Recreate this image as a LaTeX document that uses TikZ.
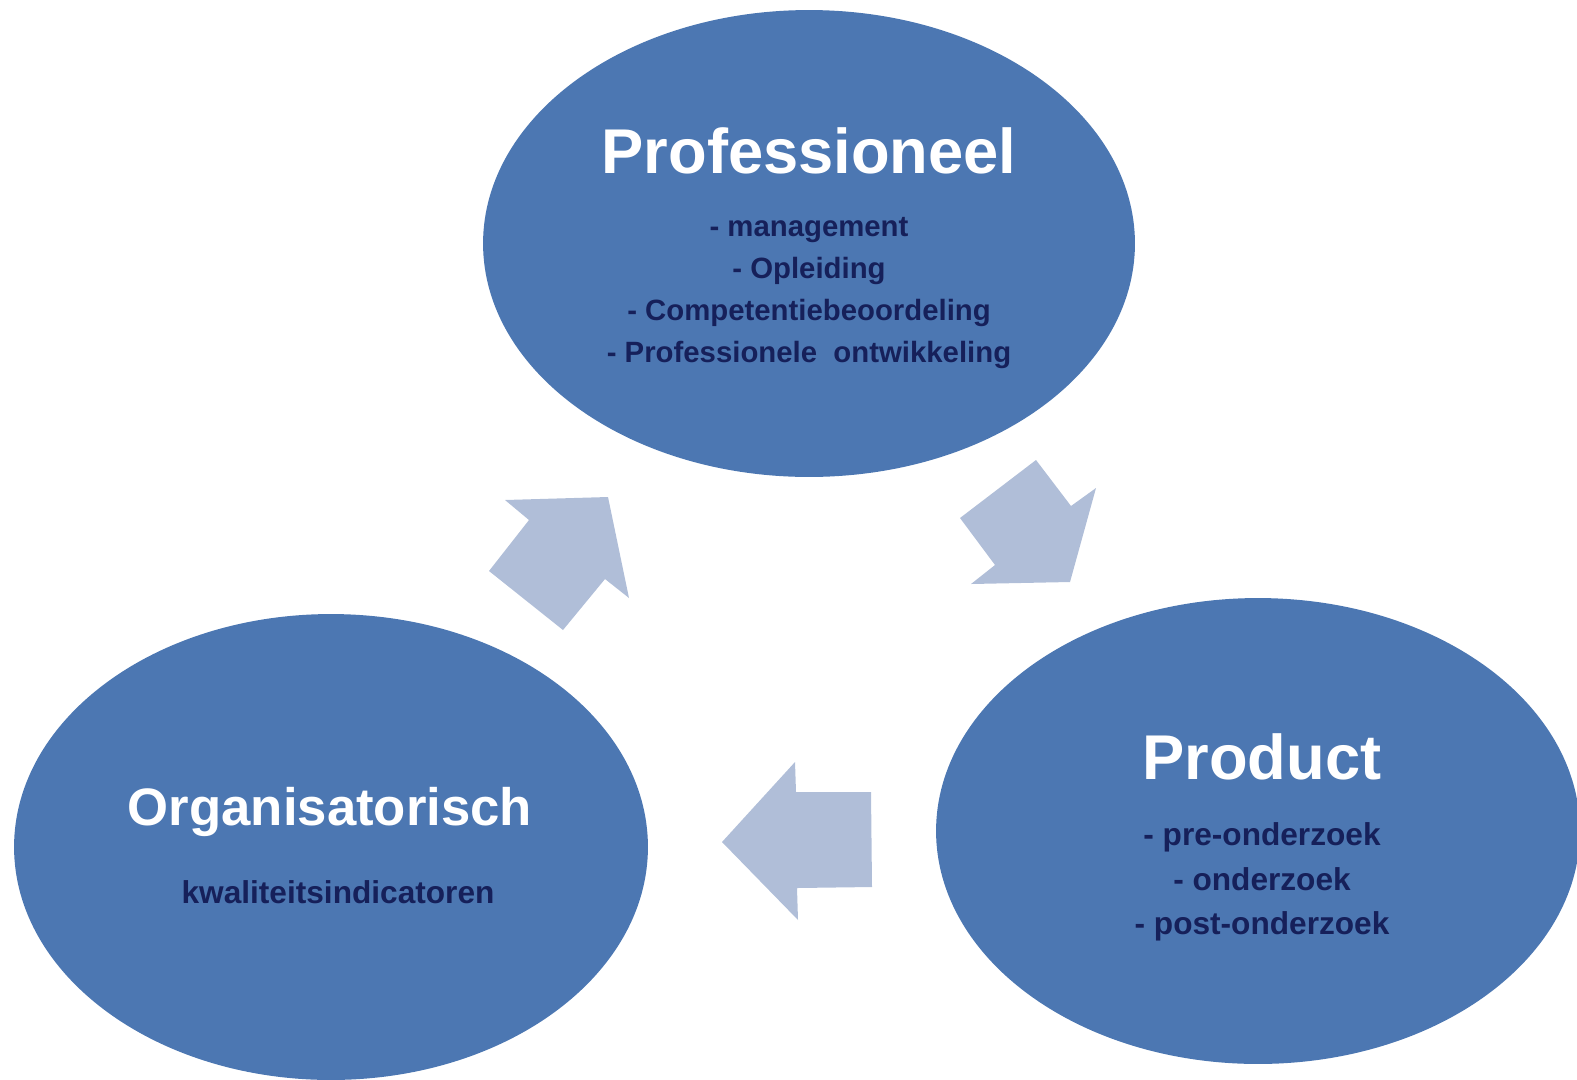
\documentclass[tikz,border=0pt]{standalone}
\usepackage{fontspec}
\setmainfont{Liberation Sans}

\begin{document}
\begin{tikzpicture}[x=0.02cm,y=-0.02cm]
% Define colours
\definecolor{cyclefill}{RGB}{76,119,178}
\definecolor{arrowfill}{RGB}{176,190,216}
\definecolor{itemtext}{RGB}{22,32,90}

\tikzset{
  title/.style={text=white,font=\bfseries\fontsize{36}{43}\selectfont},
  items/.style={text=itemtext,align=center}
}

\useasboundingbox (0,0) rectangle (1577,1079);

% Draw the three ellipses
\fill[cyclefill] (809,243.5) ellipse [x radius=6.52cm, y radius=4.67cm];
\fill[cyclefill] (331,847) ellipse [x radius=6.34cm, y radius=4.66cm];
\fill[cyclefill] (1258,831) ellipse [x radius=6.44cm, y radius=4.66cm];

% Draw the cycle arrows
\fill[arrowfill] (505,500) -- (608,497) -- (629,598) -- (605,579) -- (563,630) -- (489,571) -- (529,520) -- cycle;
\fill[arrowfill] (1036,460) -- (1071,506) -- (1096,488) -- (1070,582) -- (971,584) -- (995,565) -- (960,518) -- cycle;
\fill[arrowfill] (722,842) -- (795,762) -- (796,792) -- (871,792) -- (872,887) -- (797,888) -- (798,920) -- cycle;

% Add labels
\node[title] (prof) at (809,151) {Professioneel};
\node[items,font=\bfseries\fontsize{16.7}{23.9}\selectfont] (profitems) at (809,293)
  {- management\\- Opleiding\\- Competentiebeoordeling\\- Professionele\ \ ontwikkeling};

\node[title] (prod) at (1262,757) {Product};
\node[items,font=\bfseries\fontsize{18}{25.5}\selectfont] (proditems) at (1262,882)
  {- pre-onderzoek\\- onderzoek\\- post-onderzoek};

\node[title,font=\bfseries\fontsize{30}{36}\selectfont] (org) at (330,812) {Organisatorisch};
\node[items,font=\bfseries\fontsize{18}{22}\selectfont] (orgitems) at (338,892) {kwaliteitsindicatoren};
\end{tikzpicture}
\end{document}
